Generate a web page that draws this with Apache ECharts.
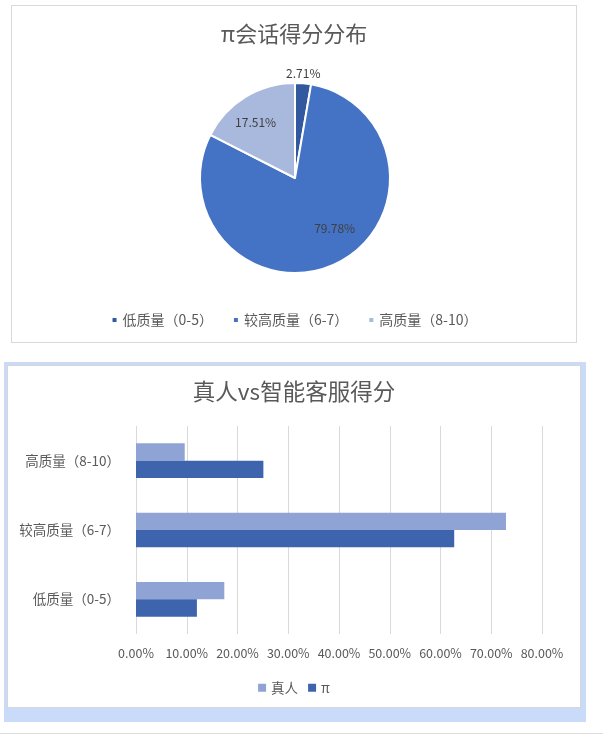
<!DOCTYPE html>
<html>
<head>
<meta charset="utf-8">
<script src="https://cdn.jsdelivr.net/npm/echarts@6/dist/echarts.min.js"></script>
<style>
  html, body { margin: 0; padding: 0; background: #fff; width: 603px; height: 745px; overflow: hidden; }
  #topBox { position: absolute; left: 11px; top: 5px; width: 566px; height: 338px; border: 1px solid #d9d9d9; box-sizing: border-box; background: #fff; }
  #blueFrame { position: absolute; left: 4px; top: 362px; width: 582px; height: 360px; background: #c9dbf9; }
  #botBox { position: absolute; left: 7px; top: 365px; width: 574px; height: 343px; border: 1px solid #d6d6d6; box-sizing: border-box; background: #fff; }
  #sep { position: absolute; left: 0; top: 733px; width: 603px; height: 1px; background: #dcdcdc; }
  .chart { width: 100%; height: 100%; }
</style>
</head>
<body>
<div id="topBox"><div id="pie" class="chart"></div></div>
<div id="blueFrame"></div>
<div id="botBox"><div id="bar" class="chart"></div></div>
<div id="sep"></div>
<script>
// ---- data ----
var pieTitle = 'π会话得分分布';
var pieCategories = ['低质量（0-5）', '较高质量（6-7）', '高质量（8-10）'];
var pieValues = [2.71, 79.78, 17.51];

var barTitle = '真人vs智能客服得分';
var barCategories = ['低质量（0-5）', '较高质量（6-7）', '高质量（8-10）'];
var seriesNames = ['真人', 'π'];
var humanValues = [17.4, 72.9, 9.6];
var piValues = [12.0, 62.7, 25.1];
var xTicks = [0, 10, 20, 30, 40, 50, 60, 70, 80];

// ---- styles ----
var FONT = '"Noto Sans CJK SC", "Noto Sans", sans-serif';
var pieColors = ['#3259a0', '#4472c4', '#a9b8dd'];
var barColors = ['#8fa3d4', '#3d64ad'];
var pieLabelShift = [[4, -54], [17, 5], [-13, -13]];

var pie = echarts.init(document.getElementById('pie'));
pie.setOption({
  animation: false,
  title: {
    text: pieTitle, left: 'center', top: 17, padding: 0,
    textStyle: { fontFamily: FONT, fontSize: 22, fontWeight: 'normal', color: '#595959' }
  },
  legend: {
    data: pieCategories, left: 'center', top: 307, padding: 0,
    icon: 'rect', itemWidth: 6, itemHeight: 6, itemGap: 19,
    textStyle: { fontFamily: FONT, fontSize: 14, color: '#595959' }
  },
  color: pieColors,
  series: [{
    type: 'pie',
    center: [283, 172],
    radius: [0, 95],
    startAngle: 90,
    clockwise: true,
    avoidLabelOverlap: false,
    itemStyle: { borderColor: '#fff', borderWidth: 2 },
    label: {
      show: true, position: 'inside',
      fontFamily: FONT, fontSize: 12, color: '#404040',
      formatter: function (p) { return p.value.toFixed(2) + '%'; }
    },
    labelLine: { show: false },
    labelLayout: function (params) {
      var s = pieLabelShift[params.dataIndex];
      return { dx: s[0], dy: s[1] };
    },
    emphasis: { disabled: true },
    data: pieCategories.map(function (c, i) { return { name: c, value: pieValues[i] }; })
  }]
});

var bar = echarts.init(document.getElementById('bar'));
bar.setOption({
  animation: false,
  title: {
    text: barTitle, left: 'center', top: 14, padding: 0,
    textStyle: { fontFamily: FONT, fontSize: 22.5, fontWeight: 'normal', color: '#595959' }
  },
  legend: {
    data: seriesNames, left: 'center', top: 315, padding: 0,
    icon: 'rect', itemWidth: 8, itemHeight: 8, itemGap: 10,
    textStyle: { fontFamily: FONT, fontSize: 13.5, color: '#595959' }
  },
  color: barColors,
  grid: { left: 128, right: 38, top: 60, bottom: 73, containLabel: false },
  xAxis: {
    type: 'value', min: xTicks[0], max: xTicks[xTicks.length - 1], interval: 10,
    axisLine: { show: false }, axisTick: { show: false },
    splitLine: { show: true, lineStyle: { color: '#d9d9d9', width: 1 } },
    axisLabel: {
      margin: 13, fontFamily: FONT, fontSize: 12.5, color: '#595959',
      formatter: function (v) { return v.toFixed(2) + '%'; }
    }
  },
  yAxis: {
    type: 'category', data: barCategories,
    axisLine: { show: false }, axisTick: { show: false },
    axisLabel: { margin: 16, fontFamily: FONT, fontSize: 13.5, color: '#595959' }
  },
  series: [
    { name: seriesNames[0], type: 'bar', data: humanValues, barGap: '0%', barCategoryGap: '50%' },
    { name: seriesNames[1], type: 'bar', data: piValues, barGap: '0%', barCategoryGap: '50%' }
  ]
});
</script>
</body>
</html>
